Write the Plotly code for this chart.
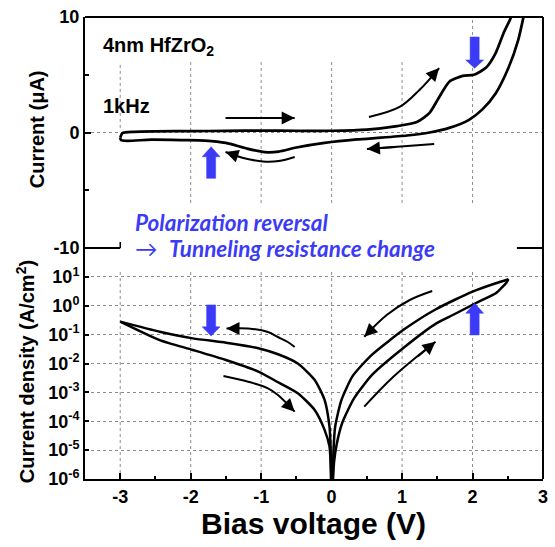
import plotly.graph_objects as go

# ---------------- data ----------------
# Upper panel: transient current loop (µA) vs bias (V)
up_fwd_v = [-3.0, -2.97, -2.8, -2.5, -2.0, -1.5, -1.0, -0.5, 0.0, 0.5, 0.93, 1.21, 1.39, 1.53, 1.67, 1.86, 2.02, 2.19, 2.33, 2.44, 2.54, 2.62]
up_fwd_i = [-0.45, -0.05, 0.06, 0.1, 0.12, 0.14, 0.17, 0.15, 0.15, 0.25, 0.55, 0.9, 1.7, 3.1, 4.4, 4.9, 5.0, 5.6, 6.9, 8.6, 9.9, 11.5]
up_ret_v = [2.8, 2.72, 2.65, 2.51, 2.33, 2.14, 1.95, 1.67, 1.39, 1.07, 0.7, 0.36, -0.1, -0.5, -0.75, -0.95, -1.2, -1.5, -1.8, -2.09, -2.56, -2.9, -2.99, -3.0]
up_ret_i = [12.0, 9.9, 8.05, 5.6, 3.4, 2.0, 1.1, 0.4, 0.0, -0.26, -0.45, -0.6, -0.9, -1.3, -1.65, -1.7, -1.4, -0.9, -0.7, -0.66, -0.62, -0.72, -0.65, -0.45]

# Lower panel: current density (A/cm^2), log10 values
pos_fwd_v = [0.0, 0.035, 0.07, 0.15, 0.32, 0.58, 1.04, 1.48, 1.72, 2.0, 2.14, 2.33, 2.48, 2.51]
pos_fwd_logj = [-7.0, -5.41, -4.82, -4.06, -3.2, -2.38, -1.42, -0.62, -0.32, 0.03, 0.2, 0.43, 0.8, 0.92]
pos_ret_v = [2.51, 2.33, 2.0, 1.48, 1.04, 0.57, 0.3, 0.14, 0.05, 0.025, 0.01]
pos_ret_logj = [0.92, 0.78, 0.49, -0.12, -0.8, -1.7, -2.43, -3.26, -4.19, -5.1, -7.0]
neg_out_v = [-0.003, -0.015, -0.03, -0.1, -0.24, -0.48, -0.76, -1.04, -1.5, -1.97, -2.44, -3.0]
neg_out_logj = [-7.0, -4.88, -4.19, -3.26, -2.57, -2.0, -1.68, -1.47, -1.28, -1.13, -0.9, -0.55]
neg_back_v = [-3.0, -2.44, -1.97, -1.5, -1.04, -0.76, -0.48, -0.24, -0.1, -0.03, -0.01, 0.0]
neg_back_logj = [-0.55, -1.19, -1.53, -1.88, -2.28, -2.65, -3.03, -3.61, -4.3, -4.88, -5.69, -7.0]

x_tick_vals = [-3, -2, -1, 0, 1, 2, 3]
upper_tick_vals = [-10, 0, 10]
log_tick_exps = [-6, -5, -4, -3, -2, -1, 0, 1]

BLACK = "black"
BLUE = "#3b3bf7"
FONT = "Liberation Sans"
GRID = "#8c8c8c"

def tj(logs):
    return [10 ** v for v in logs]

fig = go.Figure()

line_style = dict(color=BLACK, width=2.7)
fig.add_trace(go.Scatter(x=up_fwd_v, y=up_fwd_i, xaxis="x2", yaxis="y2", mode="lines",
                         line=dict(line_style, shape="spline", smoothing=0.6), hoverinfo="skip"))
fig.add_trace(go.Scatter(x=up_ret_v, y=up_ret_i, xaxis="x2", yaxis="y2", mode="lines",
                         line=dict(line_style, shape="spline", smoothing=0.6), hoverinfo="skip"))
for vv, ll in [(pos_fwd_v, pos_fwd_logj), (pos_ret_v, pos_ret_logj), (neg_out_v, neg_out_logj), (neg_back_v, neg_back_logj)]:
    fig.add_trace(go.Scatter(x=vv, y=tj(ll), xaxis="x", yaxis="y", mode="lines",
                             line=dict(color=BLACK, width=2.5, shape="spline", smoothing=0.6), hoverinfo="skip"))

# ---------- blue block arrows ----------
def block_arrow(xc, y_tail, y_base, y_tip, hs=0.064, hh=0.127):
    xs = [xc - hs, xc - hs, xc - hh, xc, xc + hh, xc + hs, xc + hs, xc - hs]
    ys = [y_tail, y_base, y_base, y_tip, y_base, y_base, y_tail, y_tail]
    return xs, ys

blue_arrows = [  # (x, tail, base, tip, panel)
    (2.03, 8.27, 6.28, 5.56, "u"),
    (-1.71, -3.97, -2.10, -1.23, "u"),
    (-1.71, 0.03, -0.73, -1.05, "l"),
    (2.03, -1.01, -0.26, 0.085, "l"),
]
for xc, yt, yb, yp, pnl in blue_arrows:
    xs, ys = block_arrow(xc, yt, yb, yp)
    if pnl == "u":
        fig.add_trace(go.Scatter(x=xs, y=ys, xaxis="x2", yaxis="y2", mode="lines", fill="toself",
                                 fillcolor=BLUE, line=dict(color=BLUE, width=0.5), hoverinfo="skip"))
    else:
        fig.add_trace(go.Scatter(x=xs, y=tj(ys), xaxis="x", yaxis="y", mode="lines", fill="toself",
                                 fillcolor=BLUE, line=dict(color=BLUE, width=0.5), hoverinfo="skip"))

# ---------- black guide arrows ----------
annotations = []
def guide(xs, ys, panel):
    xr, yr = ("x2", "y2") if panel == "u" else ("x", "y")
    yy = ys if panel == "u" else tj(ys)
    fig.add_trace(go.Scatter(x=xs, y=yy, xaxis=xr, yaxis=yr, mode="lines",
                             line=dict(color=BLACK, width=2, shape="spline"), hoverinfo="skip"))
    # arrowhead: short arrow along the final segment, overlapping the drawn line
    f = 0.45
    axv = xs[-1] + (xs[-2] - xs[-1]) * f
    ayv = ys[-1] + (ys[-2] - ys[-1]) * f
    annotations.append(dict(x=xs[-1], y=ys[-1], ax=axv, ay=ayv, xref=xr, yref=yr,
                            axref=xr, ayref=yr, showarrow=True, arrowhead=2, arrowsize=1.3,
                            arrowwidth=2, arrowcolor=BLACK, text="", font=dict(size=1)))

guide([-1.506, -0.524], [1.26, 1.26], "u")
guide([-0.524, -0.75, -0.973, -1.254, -1.506], [-2.12, -2.47, -2.51, -2.2, -1.69], "u")
guide([1.456, 0.501], [-1.0, -1.43], "u")
guide([0.53, 0.965, 1.246, 1.526], [1.34, 2.21, 3.68, 5.58], "u")

guide([-0.524, -0.622, -0.762, -0.903, -1.184, -1.492], [-1.43, -1.255, -1.082, -0.909, -0.788, -0.788], "l")
guide([-1.535, -1.184, -0.903, -0.762, -0.524], [-2.433, -2.63, -2.859, -3.091, -3.669], "l")
guide([1.428, 1.109, 0.782, 0.463], [0.511, 0.199, -0.32, -1.072], "l")
guide([0.463, 0.876, 1.474], [-3.496, -2.457, -1.245], "l")

# ---------- text ----------
annotations += [
    dict(text="<b>4nm HfZrO<sub>2</sub></b>", x=0.034, y=0.937, xref="paper", yref="paper",
         xanchor="left", yanchor="middle", showarrow=False, font=dict(family=FONT, size=20, color=BLACK)),
    dict(text="<b>1kHz</b>", x=0.034, y=0.808, xref="paper", yref="paper",
         xanchor="left", yanchor="middle", showarrow=False, font=dict(family=FONT, size=20, color=BLACK)),
    dict(text="<b><i>Polarization reversal</i></b>", x=0.108, y=0.556, xref="paper", yref="paper",
         xanchor="left", yanchor="middle", showarrow=False, borderpad=0,
         font=dict(family="Lato", size=22.5, color=BLUE)),
    dict(text="→  <b><i>Tunneling resistance change</i></b>", x=0.108, y=0.499, xref="paper", yref="paper",
         xanchor="left", yanchor="middle", showarrow=False, borderpad=0,
         font=dict(family="Lato", size=22.5, color=BLUE)),
    dict(text="<b>Current (μA)</b>", x=-0.106, y=0.758, xref="paper", yref="paper", textangle=-90,
         xanchor="center", yanchor="middle", showarrow=False, font=dict(family=FONT, size=20, color=BLACK)),
    dict(text="<b>Current density (A/cm<sup>2</sup>)</b>", x=-0.130, y=0.232, xref="paper", yref="paper",
         textangle=-90, xanchor="center", yanchor="middle", showarrow=False,
         font=dict(family=FONT, size=20, color=BLACK)),
    dict(text="<b>Bias voltage (V)</b>", x=0.499, y=-0.097, xref="paper", yref="paper",
         xanchor="center", yanchor="middle", showarrow=False, font=dict(family=FONT, size=30, color=BLACK)),
]

# ---------- grid & frame shapes ----------
grid = dict(color=GRID, width=1, dash="dot")
shapes = []
for v in x_tick_vals[:-1]:
    shapes.append(dict(type="line", xref="x", yref="y domain", x0=v, x1=v, y0=0, y1=0.905, line=grid, layer="below"))
for v in x_tick_vals[:-1]:
    if v == -3:
        y0, y1 = 0.4, 6.1
    elif v == 2:
        y0, y1 = -6.1, 9.8
    else:
        y0, y1 = -6.1, 6.1
    shapes.append(dict(type="line", xref="x2", yref="y2", x0=v, x1=v, y0=y0, y1=y1, line=grid, layer="below"))
shapes.append(dict(type="line", xref="x2 domain", yref="y2", x0=0, x1=1, y0=0, y1=0, line=grid, layer="below"))

frame = dict(color=BLACK, width=2)
shapes += [
    dict(type="line", xref="paper", yref="paper", x0=0, x1=1, y0=1, y1=1, line=frame),
    dict(type="line", xref="paper", yref="paper", x0=1, x1=1, y0=0, y1=1, line=frame),
    dict(type="line", xref="x", yref="paper", x0=-3.5, x1=-3.0, y0=0.5, y1=0.5, line=frame),
    dict(type="line", xref="x", yref="paper", x0=2.63, x1=3.0, y0=0.5, y1=0.5, line=frame),
    dict(type="line", xref="x", yref="paper", x0=-3.0, x1=-3.0, y0=0.5, y1=0.5 + 6 / 462, line=dict(color=BLACK, width=1.5)),
]

tickfont = dict(family=FONT, size=18, color=BLACK)

fig.update_layout(
    width=555, height=547, margin=dict(l=85, r=7, t=17, b=68),
    paper_bgcolor="white", plot_bgcolor="white", showlegend=False,
    xaxis=dict(domain=[0, 1], range=[-3.5, 3], anchor="y", tickmode="array", tickvals=x_tick_vals,
               ticktext=["<b>%d</b>" % v for v in x_tick_vals],
               ticks="inside", ticklen=6, tickwidth=2, tickcolor=BLACK, showline=True, linewidth=2,
               linecolor=BLACK, showgrid=False, zeroline=False, tickfont=tickfont,
               minor=dict(tickmode="array", tickvals=[-3.5, -2.5, -1.5, -0.5, 0.5, 1.5, 2.5],
                          ticks="inside", ticklen=3, tickwidth=1.5, tickcolor=BLACK)),
    xaxis2=dict(domain=[0, 1], range=[-3.5, 3], anchor="y2", matches="x", showticklabels=False,
                showline=False, ticks="", showgrid=False, zeroline=False),
    yaxis=dict(domain=[0, 0.5], type="log", range=[-6, 2], anchor="x", tickmode="array",
               tickvals=[10 ** e for e in log_tick_exps],
               ticktext=["<b>10<sup>%d</sup></b>" % e for e in log_tick_exps],
               ticks="inside", ticklen=4, tickwidth=1.5, tickcolor=BLACK, showline=True, linewidth=2,
               linecolor=BLACK, showgrid=True, gridcolor=GRID, griddash="dot", gridwidth=1,
               zeroline=False, tickfont=tickfont),
    yaxis2=dict(domain=[0.5, 1], range=[-10, 10], anchor="x2", tickmode="array", tickvals=upper_tick_vals,
                ticktext=["<b>%d</b>" % v for v in upper_tick_vals],
                ticks="inside", ticklen=6, tickwidth=2, tickcolor=BLACK, showline=True, linewidth=2,
                linecolor=BLACK, showgrid=False, zeroline=False, tickfont=tickfont,
                minor=dict(tickmode="array", tickvals=[-5, 5], ticks="inside", ticklen=4, tickwidth=1.5,
                           tickcolor=BLACK)),
    annotations=annotations, shapes=shapes,
)

fig.write_html("out.html")
